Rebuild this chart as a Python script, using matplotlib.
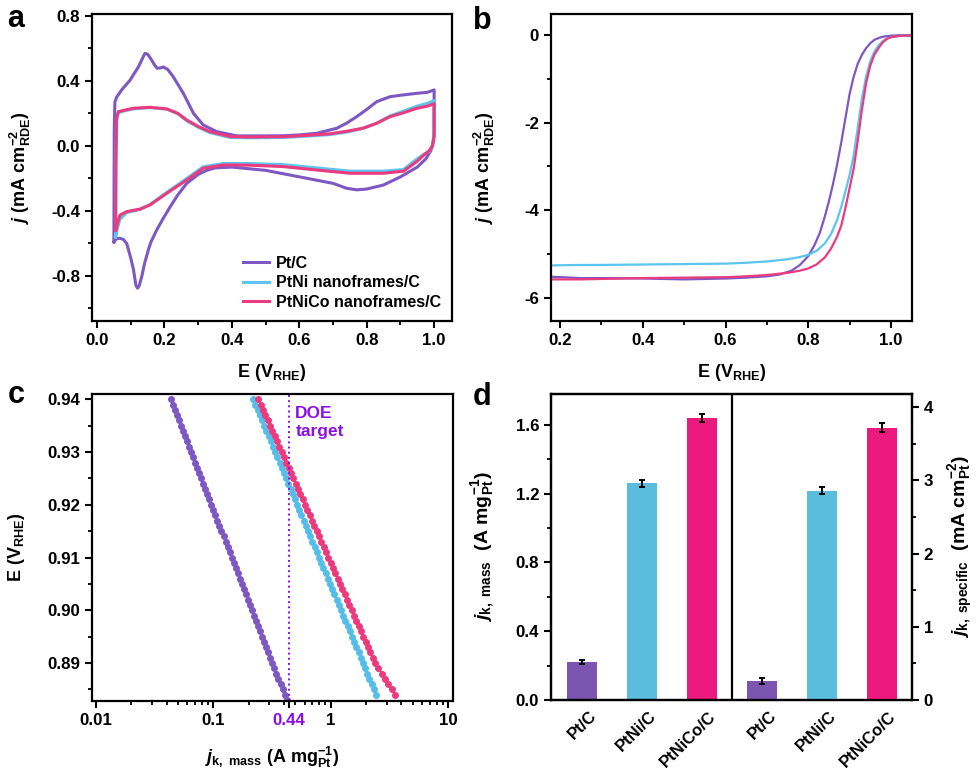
import numpy as np
import matplotlib
matplotlib.use('Agg')
import matplotlib.pyplot as plt
from matplotlib.ticker import MultipleLocator, FixedLocator, FormatStrFormatter, LogLocator, NullFormatter
from matplotlib.transforms import ScaledTranslation

plt.rcParams['font.family'] = 'Liberation Sans'
plt.rcParams['font.weight'] = 'bold'
plt.rcParams['axes.labelweight'] = 'bold'
plt.rcParams['mathtext.fontset'] = 'custom'
plt.rcParams['mathtext.rm'] = 'Liberation Sans:bold'
plt.rcParams['mathtext.it'] = 'Liberation Sans:italic:bold'
plt.rcParams['mathtext.bf'] = 'Liberation Sans:bold'
plt.rcParams['mathtext.default'] = 'rm'
plt.rcParams['axes.unicode_minus'] = False
plt.rcParams['axes.linewidth'] = 1.6
for a in ('xtick', 'ytick'):
    plt.rcParams[a + '.major.width'] = 1.5
    plt.rcParams[a + '.minor.width'] = 1.3
    plt.rcParams[a + '.major.size'] = 5
    plt.rcParams[a + '.minor.size'] = 3
    plt.rcParams[a + '.labelsize'] = 12.2
    plt.rcParams[a + '.direction'] = 'out'

PURPLE = '#7E57C2'
CYAN = '#5BC5EE'
PINK = '#EB3B7E'
BAR_COLORS = ['#7B55B0', '#5BBDDE', '#EC1A7E']
VIOLET = '#8B10E6'

# ---- (a) cyclic voltammograms: anodic sweep then cathodic sweep ----
pt_cv_x = [0.050, 0.051, 0.053, 0.058, 0.073, 0.098, 0.123, 0.142, 0.150, 0.160,
           0.170, 0.178, 0.188, 0.197, 0.210, 0.226, 0.256, 0.286, 0.315, 0.355,
           0.415, 0.50, 0.553, 0.60, 0.652, 0.711, 0.740, 0.770, 0.800, 0.830,
           0.869, 0.90, 0.949, 0.98, 1.000,
           1.000, 0.997, 0.990, 0.975, 0.950, 0.900, 0.850, 0.800, 0.770, 0.740,
           0.700, 0.600, 0.500, 0.400, 0.350, 0.325, 0.300, 0.266, 0.240, 0.217,
           0.195, 0.177, 0.160, 0.152, 0.140, 0.133, 0.125, 0.120, 0.115, 0.108,
           0.100, 0.088, 0.078, 0.068, 0.058, 0.052, 0.050]
pt_cv_y = [-0.59, 0.10, 0.27, 0.30, 0.345, 0.405, 0.488, 0.570, 0.565, 0.535,
           0.500, 0.478, 0.480, 0.486, 0.470, 0.426, 0.324, 0.201, 0.129, 0.088,
           0.062, 0.062, 0.063, 0.068, 0.078, 0.109, 0.14, 0.18, 0.225, 0.273,
           0.303, 0.312, 0.324, 0.33, 0.345,
           0.08, 0.02, -0.03, -0.08, -0.13, -0.19, -0.24, -0.265, -0.27, -0.26,
           -0.23, -0.19, -0.15, -0.13, -0.135, -0.15, -0.175, -0.23, -0.30, -0.374,
           -0.45, -0.517, -0.59, -0.64, -0.73, -0.80, -0.86, -0.875, -0.855, -0.76,
           -0.69, -0.60, -0.575, -0.568, -0.57, -0.585, -0.59]

nf_cv_x = [0.055, 0.056, 0.058, 0.063, 0.085, 0.108, 0.157, 0.207, 0.24, 0.266,
           0.30, 0.335, 0.395, 0.45, 0.553, 0.62, 0.691, 0.74, 0.79, 0.83,
           0.869, 0.91, 0.949, 0.98, 1.000,
           1.000, 0.995, 0.985, 0.97, 0.949, 0.909, 0.85, 0.751, 0.652, 0.553,
           0.45, 0.375, 0.315, 0.266, 0.207, 0.157, 0.128, 0.088, 0.068, 0.06,
           0.057, 0.055]
ni_cv_y = [-0.56, -0.1, 0.16, 0.205, 0.218, 0.228, 0.236, 0.226, 0.198, 0.155,
           0.115, 0.082, 0.052, 0.05, 0.052, 0.06, 0.07, 0.085, 0.108, 0.14,
           0.185, 0.215, 0.245, 0.262, 0.28,
           0.07, 0.0, -0.035, -0.05, -0.08, -0.145, -0.155, -0.155, -0.135, -0.115,
           -0.108, -0.108, -0.128, -0.20, -0.285, -0.36, -0.39, -0.41, -0.45, -0.51,
           -0.545, -0.56]
nico_cv_y = [-0.52, -0.1, 0.17, 0.211, 0.222, 0.232, 0.238, 0.228, 0.20, 0.16,
             0.12, 0.088, 0.058, 0.055, 0.057, 0.065, 0.075, 0.09, 0.11, 0.14,
             0.18, 0.205, 0.232, 0.245, 0.26,
             0.06, 0.0, -0.03, -0.055, -0.095, -0.155, -0.168, -0.168, -0.148, -0.127,
             -0.118, -0.117, -0.137, -0.209, -0.291, -0.363, -0.388, -0.404, -0.425, -0.48,
             -0.51, -0.52]

# ---- (b) ORR polarisation curves ----
pt_lsv_x = [0.18, 0.25, 0.30, 0.40, 0.50, 0.60, 0.65, 0.70, 0.73, 0.76,
            0.78, 0.80, 0.815, 0.828, 0.84, 0.85, 0.86, 0.87, 0.88, 0.89,
            0.90, 0.91, 0.92, 0.93, 0.94, 0.95, 0.96, 0.97, 0.98, 1.00, 1.02, 1.05]
pt_lsv_y = [-5.52, -5.55, -5.55, -5.56, -5.58, -5.56, -5.54, -5.51, -5.47, -5.38,
            -5.25, -5.05, -4.8, -4.52, -4.15, -3.8, -3.4, -2.95, -2.45, -1.9,
            -1.35, -0.95, -0.65, -0.45, -0.3, -0.19, -0.11, -0.07, -0.04, -0.015, -0.005, 0.0]
nf_lsv_x = [0.18, 0.25, 0.30, 0.40, 0.50, 0.60, 0.65, 0.70, 0.75, 0.78,
            0.80, 0.82, 0.84, 0.855, 0.87, 0.88, 0.89, 0.90, 0.91, 0.92,
            0.93, 0.94, 0.95, 0.96, 0.97, 0.98, 0.99, 1.00, 1.02, 1.05]
ni_lsv_y = [-5.26, -5.25, -5.25, -5.24, -5.23, -5.22, -5.2, -5.17, -5.12, -5.07,
            -5.02, -4.93, -4.76, -4.55, -4.22, -3.92, -3.57, -3.2, -2.75, -2.1,
            -1.45, -0.95, -0.6, -0.38, -0.24, -0.14, -0.08, -0.05, -0.02, -0.01]
nico_lsv_y = [-5.58, -5.58, -5.57, -5.55, -5.54, -5.53, -5.51, -5.48, -5.43, -5.38,
              -5.33, -5.24, -5.08, -4.88, -4.6, -4.35, -3.95, -3.5, -3.05, -2.4,
              -1.7, -1.1, -0.7, -0.45, -0.3, -0.17, -0.09, -0.05, -0.02, -0.01]

# ---- (c) mass activity vs potential ----
E_c = [0.940, 0.939, 0.938, 0.937, 0.936, 0.935, 0.934, 0.933, 0.932, 0.931,
       0.930, 0.929, 0.928, 0.927, 0.926, 0.925, 0.924, 0.923, 0.922, 0.921,
       0.920, 0.919, 0.918, 0.917, 0.916, 0.915, 0.914, 0.913, 0.912, 0.911,
       0.910, 0.909, 0.908, 0.907, 0.906, 0.905, 0.904, 0.903, 0.902, 0.901,
       0.900, 0.899, 0.898, 0.897, 0.896, 0.895, 0.894, 0.893, 0.892, 0.891,
       0.890, 0.889, 0.888, 0.887, 0.886, 0.885, 0.884, 0.883]
pt_jk = [0.0433, 0.0450, 0.0468, 0.0488, 0.0507, 0.0528, 0.0550, 0.0572, 0.0595, 0.0620,
         0.0645, 0.0671, 0.0699, 0.0727, 0.0757, 0.0787, 0.0820, 0.0853, 0.0888, 0.0924,
         0.0962, 0.1001, 0.1041, 0.1084, 0.1128, 0.1174, 0.1222, 0.1272, 0.1323, 0.1377,
         0.1434, 0.1492, 0.1553, 0.1616, 0.1682, 0.1750, 0.1822, 0.1896, 0.1973, 0.2054,
         0.2138, 0.2225, 0.2315, 0.2410, 0.2508, 0.2610, 0.2717, 0.2827, 0.2943, 0.3062,
         0.3187, 0.3317, 0.3452, 0.3593, 0.3739, 0.3891, 0.4050, 0.4215]
ni_jk = [0.2188, 0.2284, 0.2384, 0.2489, 0.2599, 0.2713, 0.2833, 0.2958, 0.3088, 0.3223,
         0.3365, 0.3513, 0.3668, 0.3829, 0.3998, 0.4174, 0.4358, 0.4550, 0.4750, 0.4959,
         0.5176, 0.5404, 0.5642, 0.5890, 0.6150, 0.6420, 0.6703, 0.6998, 0.7306, 0.7628,
         0.7962, 0.8313, 0.8677, 0.9060, 0.9458, 0.9874, 1.031, 1.076, 1.124, 1.173,
         1.225, 1.279, 1.335, 1.394, 1.455, 1.519, 1.586, 1.656, 1.729, 1.805,
         1.884, 1.967, 2.053, 2.144, 2.238, 2.337, 2.439]
nico_jk = [0.2421, 0.2534, 0.2653, 0.2778, 0.2908, 0.3044, 0.3187, 0.3336, 0.3493, 0.3657,
           0.3828, 0.4008, 0.4196, 0.4392, 0.4598, 0.4814, 0.5040, 0.5276, 0.5524, 0.5782,
           0.6053, 0.6337, 0.6634, 0.6945, 0.7271, 0.7612, 0.7969, 0.8342, 0.8733, 0.9143,
           0.9572, 1.002, 1.049, 1.098, 1.150, 1.204, 1.260, 1.319, 1.381, 1.446,
           1.514, 1.585, 1.659, 1.737, 1.819, 1.904, 1.993, 2.087, 2.184, 2.287,
           2.393, 2.555, 2.727, 2.911, 3.106, 3.316, 3.539]
doe_target = 0.44

# ---- (d) activities ----
catalysts = ['Pt/C', 'PtNi/C', 'PtNiCo/C']
mass_act = [0.22, 1.26, 1.64]
mass_err = [0.01, 0.02, 0.022]
spec_act = [0.26, 2.86, 3.72]
spec_err = [0.045, 0.045, 0.06]

fig = plt.figure(figsize=(9.8, 7.73), dpi=100)
W, H = 980, 773


def box(l, t, r, b):
    return [l / W, 1 - b / H, (r - l) / W, (b - t) / H]


def style(ax):
    ax.tick_params(top=False, right=False)
    for s in ax.spines.values():
        s.set_linewidth(1.6)


# panel a
ax = fig.add_axes(box(92, 14, 452, 321))
style(ax)
ax.plot(pt_cv_x, pt_cv_y, color=PURPLE, lw=2.2, label='Pt/C')
ax.plot(nf_cv_x, ni_cv_y, color=CYAN, lw=2.2, label='PtNi nanoframes/C')
ax.plot(nf_cv_x, nico_cv_y, color=PINK, lw=2.2, label='PtNiCo nanoframes/C')
ax.set_xlim(-0.015, 1.053)
ax.set_ylim(-1.077, 0.812)
ax.xaxis.set_major_locator(MultipleLocator(0.2))
ax.xaxis.set_minor_locator(MultipleLocator(0.1))
ax.yaxis.set_major_locator(MultipleLocator(0.4))
ax.yaxis.set_minor_locator(MultipleLocator(0.2))
ax.xaxis.set_major_formatter(FormatStrFormatter('%.1f'))
ax.yaxis.set_major_formatter(FormatStrFormatter('%.1f'))
ax.set_xlabel(r'E (V$_{RHE}$)', fontsize=13)
ax.set_ylabel(r'$\mathit{j}$ (mA cm$^{-2}_{RDE}$)', fontsize=13)
ax.xaxis.set_label_coords(0.5, -0.135)
ax.yaxis.set_label_coords(-0.165, 0.5)
ax.legend(loc='lower right', frameon=False, fontsize=11.5, handlelength=1.6,
          handletextpad=0.45, labelspacing=0.28, borderaxespad=0.3)

# panel b
ax = fig.add_axes(box(551, 14, 912, 321))
style(ax)
ax.plot(pt_lsv_x, pt_lsv_y, color=PURPLE, lw=1.6)
ax.plot(nf_lsv_x, ni_lsv_y, color=CYAN, lw=1.6)
ax.plot(nf_lsv_x, nico_lsv_y, color=PINK, lw=1.6)
ax.set_xlim(0.178, 1.051)
ax.set_ylim(-6.53, 0.48)
ax.xaxis.set_major_locator(MultipleLocator(0.2))
ax.xaxis.set_minor_locator(MultipleLocator(0.1))
ax.yaxis.set_major_locator(MultipleLocator(2))
ax.yaxis.set_minor_locator(MultipleLocator(1))
ax.xaxis.set_major_formatter(FormatStrFormatter('%.1f'))
ax.yaxis.set_major_formatter(FormatStrFormatter('%d'))
ax.set_xlabel(r'E (V$_{RHE}$)', fontsize=13)
ax.set_ylabel(r'$\mathit{j}$ (mA cm$^{-2}_{RDE}$)', fontsize=13)
ax.xaxis.set_label_coords(0.5, -0.135)
ax.yaxis.set_label_coords(-0.15, 0.5)

# panel c
ax = fig.add_axes(box(92, 394, 453, 701))
style(ax)
ax.set_xscale('log')
ax.plot(pt_jk, E_c, color=PURPLE, lw=1.5, marker='o', ms=4.0)
ax.plot(ni_jk, E_c[:len(ni_jk)], color='#55BEE8', lw=1.5, marker='o', ms=4.0)
ax.plot(nico_jk, E_c[:len(nico_jk)], color=PINK, lw=1.5, marker='o', ms=4.0)
ax.axvline(doe_target, color=VIOLET, lw=1.4, ls=':')
ax.text(0.50, 0.9387, 'DOE\ntarget', color=VIOLET, fontsize=12.5, va='top', ha='left',
        linespacing=1.25)
ax.set_xlim(10 ** -2.034, 10 ** 1.043)
ax.set_ylim(0.8828, 0.941)
ax.xaxis.set_major_locator(FixedLocator([0.01, 0.1, doe_target, 1, 10]))
ax.xaxis.set_minor_locator(LogLocator(base=10, subs=np.arange(2, 10)))
ax.xaxis.set_minor_formatter(NullFormatter())
ax.set_xticklabels(['0.01', '0.1', '0.44', '1', '10'])
ax.get_xticklabels()[2].set_color(VIOLET)
ax.yaxis.set_major_locator(MultipleLocator(0.01))
ax.yaxis.set_minor_locator(MultipleLocator(0.005))
ax.yaxis.set_major_formatter(FormatStrFormatter('%.2f'))
ax.set_xlabel(r'$\mathit{j}_{k,\ mass}$ (A mg$^{-1}_{Pt}$)', fontsize=13)
ax.set_ylabel(r'E (V$_{RHE}$)', fontsize=13)
ax.xaxis.set_label_coords(0.5, -0.14)
ax.yaxis.set_label_coords(-0.18, 0.5)

# panel d
ax = fig.add_axes(box(551, 394, 912, 700))
ax2 = ax.twinx()
for a in (ax, ax2):
    for s in a.spines.values():
        s.set_linewidth(1.6)
pos_l = np.arange(len(catalysts))
pos_r = pos_l + len(catalysts)
ekw = dict(elinewidth=1.4, capthick=1.4, ecolor='k')
ax.bar(pos_l, mass_act, width=0.5, color=BAR_COLORS, yerr=mass_err, capsize=2.5,
       error_kw=ekw)
ax2.bar(pos_r, spec_act, width=0.5, color=BAR_COLORS, yerr=spec_err, capsize=2.5,
        error_kw=ekw)
ax.axvline(2.49, color='k', lw=1.6)
ax.set_xlim(-0.52, 5.5)
ax.set_ylim(0, 1.78)
ax2.set_ylim(0, 4.18)
ax.yaxis.set_major_locator(MultipleLocator(0.4))
ax.yaxis.set_minor_locator(MultipleLocator(0.2))
ax.yaxis.set_major_formatter(FormatStrFormatter('%.1f'))
ax2.yaxis.set_major_locator(MultipleLocator(1))
ax2.yaxis.set_minor_locator(MultipleLocator(0.5))
ax2.yaxis.set_major_formatter(FormatStrFormatter('%d'))
ax.tick_params(axis='x', length=0, pad=6)
ax.set_xticks(np.concatenate([pos_l, pos_r]))
ax.set_xticklabels(catalysts * 2, rotation=45, ha='right', fontsize=12)
shift = ScaledTranslation(17 / 100, 0, fig.dpi_scale_trans)
for lbl in ax.get_xticklabels():
    lbl.set_transform(lbl.get_transform() + shift)
ax.set_ylabel(r'$\mathit{j}_{k,\ mass}$  (A mg$^{-1}_{Pt}$)', fontsize=14)
ax2.set_ylabel(r'$\mathit{j}_{k,\ specific}$  (mA cm$^{-2}_{Pt}$)', fontsize=14)
ax.yaxis.set_label_coords(-0.15, 0.5)
ax2.yaxis.set_label_coords(1.097, 0.5)

# panel letters
fig.text(7 / W, 1 - 27 / H, 'a', fontsize=22, va='baseline')
fig.text(473 / W, 1 - 29 / H, 'b', fontsize=22, va='baseline')
fig.text(8 / W, 1 - 403 / H, 'c', fontsize=22, va='baseline')
fig.text(473 / W, 1 - 405 / H, 'd', fontsize=22, va='baseline')

fig.savefig('out.png', dpi=100)
